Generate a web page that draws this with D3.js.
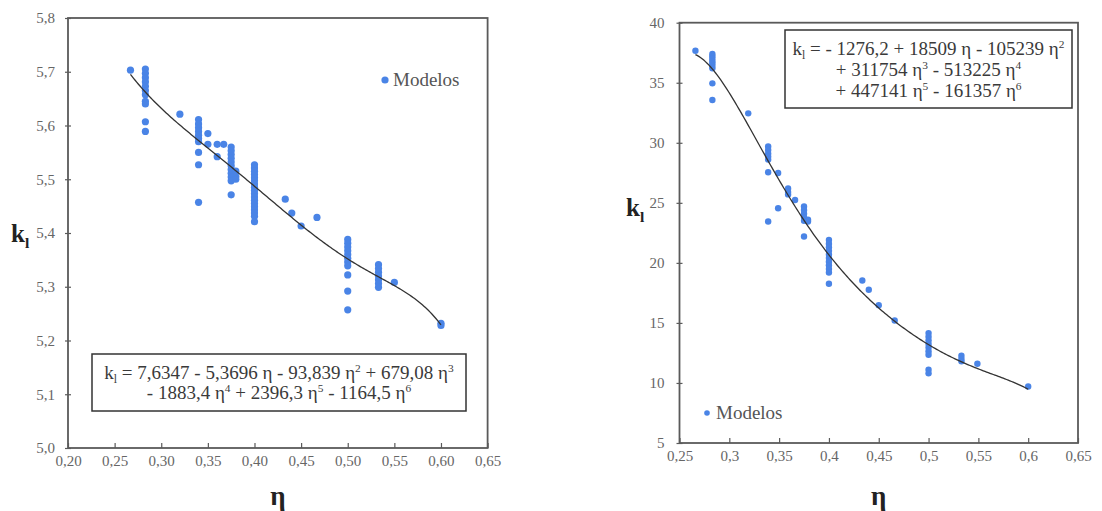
<!DOCTYPE html>
<html><head><meta charset="utf-8">
<script src="https://cdn.jsdelivr.net/npm/d3@7"></script>
<style>
body{margin:0;background:#fff}
svg text{font-family:"Liberation Serif","Times New Roman",serif}
</style>
</head><body>
<svg id="c" width="1102" height="511"></svg>
<script>
// ---------- Left chart data ----------
const leftEta = [0.267,
 0.283,0.283,0.283,0.283,0.283,0.283,0.283,0.283,0.283,0.283,0.283,
 0.320,
 0.340,0.340,0.340,0.340,0.340,0.340,0.340,0.340,0.340,0.340,
 0.350,0.350,
 0.360,0.360,
 0.367,
 0.375,0.375,0.375,0.375,0.375,0.375,0.375,0.375,0.375,0.375,0.375,
 0.380,0.380,0.380,
 0.400,0.400,0.400,0.400,0.400,0.400,0.400,0.400,0.400,0.400,0.400,0.400,0.400,0.400,0.400,0.400,0.400,0.400,
 0.433,0.440,0.450,0.467,
 0.500,0.500,0.500,0.500,0.500,0.500,0.500,0.500,0.500,0.500,0.500,
 0.533,0.533,0.533,0.533,0.533,0.533,0.533,
 0.550,
 0.600,0.600];
const leftK = [5.703,
 5.705,5.697,5.689,5.681,5.673,5.665,5.657,5.645,5.640,5.607,5.589,
 5.621,
 5.611,5.603,5.596,5.589,5.582,5.576,5.570,5.550,5.527,5.457,
 5.585,5.565,
 5.565,5.542,
 5.565,
 5.560,5.553,5.546,5.539,5.532,5.525,5.518,5.511,5.504,5.497,5.471,
 5.515,5.505,5.500,
 5.527,5.521,5.515,5.509,5.503,5.497,5.491,5.485,5.479,5.473,5.467,5.461,5.455,5.449,5.443,5.437,5.431,5.421,
 5.463,5.437,5.413,5.429,
 5.388,5.381,5.374,5.367,5.360,5.353,5.346,5.339,5.322,5.292,5.257,
 5.341,5.334,5.327,5.320,5.313,5.306,5.299,
 5.308,
 5.232,5.228];
const leftCoef = [7.6347, -5.3696, -93.839, 679.08, -1883.4, 2396.3, -1164.5];
const leftXTicks = [0.20,0.25,0.30,0.35,0.40,0.45,0.50,0.55,0.60,0.65];
const leftXLabels = ["0,20","0,25","0,30","0,35","0,40","0,45","0,50","0,55","0,60","0,65"];
const leftYTicks = [5.0,5.1,5.2,5.3,5.4,5.5,5.6,5.7,5.8];
const leftYLabels = ["5,0","5,1","5,2","5,3","5,4","5,5","5,6","5,7","5,8"];

// ---------- Right chart data ----------
const rightEta = [0.266,
 0.283,0.283,0.283,0.283,0.283,0.283,0.283,0.283,0.283,
 0.319,
 0.339,0.339,0.339,0.339,0.339,0.339,0.339,
 0.349,0.349,
 0.359,0.359,0.359,
 0.366,
 0.375,0.375,0.375,0.375,0.375,0.375,
 0.379,0.379,
 0.400,0.400,0.400,0.400,0.400,0.400,0.400,0.400,0.400,0.400,0.400,
 0.4335,0.440,0.450,0.466,
 0.500,0.500,0.500,0.500,0.500,0.500,0.500,0.500,0.500,
 0.533,0.533,0.533,
 0.549,
 0.600];
const rightK = [37.67,
 37.4,37.2,37.0,36.8,36.6,36.4,36.2,34.95,33.56,
 32.45,
 29.7,29.4,29.1,28.85,28.6,27.55,23.44,
 27.49,24.55,
 26.2,25.9,25.7,
 25.24,
 24.7,24.4,24.1,23.8,23.5,22.2,
 23.6,23.44,
 21.9,21.6,21.3,21.0,20.7,20.4,20.1,19.8,19.5,19.2,18.26,
 18.53,17.76,16.48,15.2,
 14.15,13.85,13.55,13.25,12.95,12.65,12.35,11.1,10.8,
 12.27,12.0,11.8,
 11.6,
 9.71];
const rightCoef = [-1276.2, 18509, -105239, 311754, -513225, 447141, -161357];
const rightXTicks = [0.25,0.30,0.35,0.40,0.45,0.50,0.55,0.60,0.65];
const rightXLabels = ["0,25","0,3","0,35","0,4","0,45","0,5","0,55","0,6","0,65"];
const rightYTicks = [5,10,15,20,25,30,35,40];
const rightYLabels = ["5","10","15","20","25","30","35","40"];

const legendLabel = "Modelos";
const axisXTitle = "η";

const leftEq = [
  [["k"],["l","sub"],[" = 7,6347 - 5,3696 η - 93,839 η"],["2","sup"],[" + 679,08 η"],["3","sup"]],
  [["- 1883,4 η"],["4","sup"],[" + 2396,3 η"],["5","sup"],[" - 1164,5 η"],["6","sup"]]
];
const rightEq = [
  [["k"],["l","sub"],[" = - 1276,2 + 18509 η - 105239 η"],["2","sup"]],
  [["+ 311754 η"],["3","sup"],[" - 513225 η"],["4","sup"]],
  [["+ 447141 η"],["5","sup"],[" - 161357 η"],["6","sup"]]
];

const FONT = "'Liberation Serif','Times New Roman',serif";
const svg = d3.select("#c").attr("font-family",FONT);
svg.append("rect").attr("width",1102).attr("height",511).attr("fill","#fff");

const DOT = "#4a84e6";
const AX = "#5a5a5a";
const LBL = "#666";

function rich(textSel, parts, fs){
  let pend = 0;
  parts.forEach(p=>{
    const t = textSel.append("tspan").text(p[0]);
    let dy = pend; pend = 0;
    if(p[1]==="sub"){ t.attr("font-size",fs*0.62); dy += fs*0.22; pend = -fs*0.22; }
    else if(p[1]==="sup"){ t.attr("font-size",fs*0.6); dy += -fs*0.38; pend = fs*0.38; }
    if(dy) t.attr("dy",dy);
  });
}

function poly(c, e){ let s=0; for(let i=c.length-1;i>=0;i--) s = s*e + c[i]; return s; }

function panel(cfg){
  const x = d3.scaleLinear().domain(cfg.xDomain).range(cfg.xRange);
  const y = d3.scaleLinear().domain(cfg.yDomain).range(cfg.yRange);
  const g = svg.append("g");
  const [x0,x1] = cfg.xRange, [y0,y1] = cfg.yRange;

  // x axis
  const xa = g.append("g").attr("transform",`translate(0,${y0})`)
    .call(d3.axisBottom(x).tickValues(cfg.xTicks).tickFormat((d,i)=>cfg.xLabels[i]).tickSizeInner(-5).tickSizeOuter(0).tickPadding(7));
  xa.attr("font-family",FONT).attr("font-size",cfg.tickFs);
  xa.select(".domain").remove();
  xa.selectAll("line").attr("stroke",AX).attr("stroke-width",1.2);
  xa.selectAll("text").attr("fill",LBL).attr("font-size",cfg.tickFs);

  // y axis
  const ya = g.append("g").attr("transform",`translate(${x0},0)`)
    .call(d3.axisLeft(y).tickValues(cfg.yTicks).tickFormat((d,i)=>cfg.yLabels[i]).tickSizeInner(3).tickSizeOuter(0).tickPadding(cfg.yPad));
  ya.attr("font-family",FONT).attr("font-size",cfg.tickFs);
  ya.select(".domain").remove();
  ya.selectAll("line").attr("x1",-3).attr("x2",3).attr("stroke",AX).attr("stroke-width",1.2);
  ya.selectAll("text").attr("fill",LBL).attr("font-size",cfg.tickFs);

  // frame
  g.append("rect").attr("x",x0).attr("y",y1).attr("width",x1-x0).attr("height",y0-y1)
    .attr("fill","none").attr("stroke",AX).attr("stroke-width",1.8);

  // points
  g.append("g").selectAll("circle").data(cfg.eta.map((e,i)=>[e,cfg.k[i]])).join("circle")
    .attr("cx",d=>x(d[0])).attr("cy",d=>y(d[1])).attr("r",cfg.r).attr("fill",DOT);

  // trend line (from the printed polynomial coefficients)
  const n = 200, e0 = d3.min(cfg.eta), e1 = d3.max(cfg.eta);
  const pts = d3.range(n+1).map(i=>{ const e = e0 + (e1-e0)*i/n; return [e, poly(cfg.coef,e)]; });
  g.append("path").datum(pts).attr("fill","none").attr("stroke","#333").attr("stroke-width",1.3)
    .attr("d", d3.line().x(d=>x(d[0])).y(d=>y(d[1])));

  // equation box
  const b = cfg.box;
  g.append("rect").attr("x",b.x).attr("y",b.y).attr("width",b.w).attr("height",b.h)
    .attr("fill","#fff").attr("stroke","#333").attr("stroke-width",1.5);
  cfg.eq.forEach((line,i)=>{
    const t = g.append("text").attr("x",b.x+b.w/2).attr("y",b.base[i]).attr("text-anchor","middle")
      .attr("font-size",cfg.eqFs).attr("fill","#3a3a3a");
    rich(t,line,cfg.eqFs);
  });

  // legend
  g.append("circle").attr("cx",cfg.leg.cx).attr("cy",cfg.leg.cy).attr("r",cfg.leg.r).attr("fill",DOT);
  g.append("text").attr("x",cfg.leg.tx).attr("y",cfg.leg.ty).attr("font-size",cfg.leg.fs).attr("fill","#555").text(legendLabel);

  // axis titles
  g.append("text").attr("x",(x0+x1)/2).attr("y",cfg.xtY).attr("text-anchor","middle")
    .attr("font-size",27).attr("font-weight","bold").attr("fill","#222").text(axisXTitle);
  const yt = g.append("text").attr("x",cfg.ytX).attr("y",cfg.ytY).attr("font-size",25).attr("font-weight","bold").attr("fill","#222");
  rich(yt,[["k"],["l","sub"]],25);
}

panel({
  xDomain:[0.20,0.65], xRange:[68,487.6], yDomain:[5.0,5.8], yRange:[448,18],
  xTicks:leftXTicks, xLabels:leftXLabels, yTicks:leftYTicks, yLabels:leftYLabels,
  tickFs:15, yPad:10, eta:leftEta, k:leftK, coef:leftCoef, r:3.6,
  box:{x:92,y:354,w:374,h:57,base:[379,399]}, eq:leftEq, eqFs:19,
  leg:{cx:385,cy:80,r:3.6,tx:393,ty:86,fs:19},
  xtY:505, ytX:11, ytY:242
});
panel({
  xDomain:[0.25,0.65], xRange:[679.5,1078], yDomain:[5,40], yRange:[443,22.7],
  xTicks:rightXTicks, xLabels:rightXLabels, yTicks:rightYTicks, yLabels:rightYLabels,
  tickFs:15, yPad:12, eta:rightEta, k:rightK, coef:rightCoef, r:3.2,
  box:{x:785,y:30,w:287,h:78,base:[55,76,97]}, eq:rightEq, eqFs:19,
  leg:{cx:707,cy:413,r:2.8,tx:716,ty:419,fs:19},
  xtY:505, ytX:626, ytY:216
});
</script>
</body></html>
